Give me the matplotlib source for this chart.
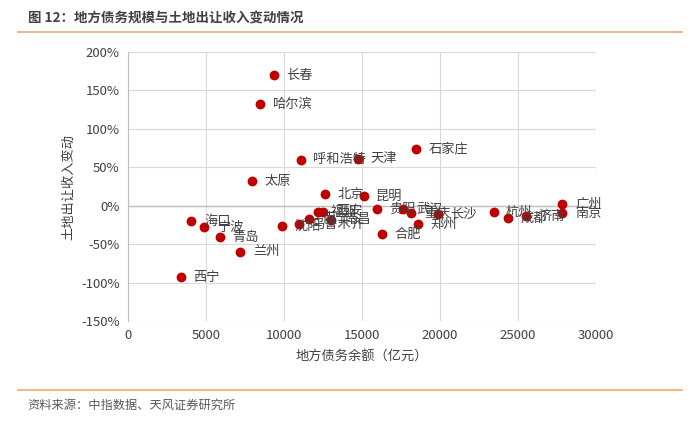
import matplotlib
matplotlib.use("Agg")
import matplotlib.pyplot as plt
from matplotlib.ticker import FuncFormatter, MultipleLocator
from matplotlib.lines import Line2D

plt.rcParams['font.family'] = ['Noto Sans CJK SC', 'DejaVu Sans']

cities = ['长春', '哈尔滨', '呼和浩特', '天津', '石家庄', '太原', '北京', '昆明',
          '广州', '南京', '杭州', '成都', '济南', '贵阳', '武汉', '重庆', '长沙',
          '郑州', '合肥', '沈阳', '乌鲁木齐', '南宁', '福州', '西安', '南昌',
          '海口', '宁波', '青岛', '兰州', '西宁']
debt = [9350, 8450, 11060, 14760, 18470, 7920, 12660, 15100,
        27850, 27850, 23430, 24390, 25540, 15930, 17660, 18170, 19840,
        18560, 16250, 9900, 10930, 11630, 12210, 12530, 13040,
        4070, 4900, 5870, 7210, 3370]
land_change = [170, 132, 59.5, 61, 74, 32, 15, 12.5,
               2, -9.5, -8, -16, -13.5, -4.5, -4.5, -9.5, -11,
               -24, -37, -26.5, -24, -17, -8, -8, -18.5,
               -20, -28, -41, -60, -93]
x_ticks = [0, 5000, 10000, 15000, 20000, 25000, 30000]
y_ticks = [-150, -100, -50, 0, 50, 100, 150, 200]

fig = plt.figure(figsize=(7, 4.21), dpi=100)
ax = fig.add_axes([128/700, 1-321/421, (596-128)/700, (321-52)/421])

ax.set_xlim(0, 30000)
ax.set_ylim(-150, 200)
ax.set_xticks(x_ticks)
ax.set_yticks(y_ticks)
ax.yaxis.set_major_formatter(FuncFormatter(lambda v, p: f"{int(v)}%"))
ax.grid(True, color='#d9d9d9', linewidth=0.8)
ax.set_axisbelow(True)
for s in ['top', 'right', 'bottom']:
    ax.spines[s].set_visible(False)
ax.spines['left'].set_color('#bfbfbf')
ax.axhline(0, color='#bfbfbf', linewidth=1.0, zorder=1)
ax.tick_params(axis='both', length=0, labelsize=9.5, colors='#404040', pad=6)

ax.scatter(debt, land_change, s=50, color='#C00000', zorder=3, linewidths=0)
for c, xv, yv in zip(cities, debt, land_change):
    ax.annotate(c, (xv, yv), xytext=(9, 0), textcoords='offset points',
                ha='left', va='center', fontsize=9.5, color='#404040', zorder=4)

ax.set_xlabel('地方债务余额（亿元）', fontsize=9.5, color='#404040', labelpad=6)
ax.set_ylabel('土地出让收入变动', fontsize=9.5, color='#404040', labelpad=4)

fig.text(28/700, 1-18/421, '图 12：地方债务规模与土地出让收入变动情况', fontsize=9.7,
         fontweight='bold', color='#404040', ha='left', va='center')
fig.add_artist(Line2D([18/700, 682/700], [1-32/421, 1-32/421], color='#F0A868', linewidth=1.2))
fig.add_artist(Line2D([18/700, 682/700], [1-390/421, 1-390/421], color='#F0A868', linewidth=1.2))
fig.text(27/700, 1-405/421, '资料来源：中指数据、天风证券研究所', fontsize=8.8,
         color='#595959', ha='left', va='center')

fig.savefig('out.png', dpi=100)
